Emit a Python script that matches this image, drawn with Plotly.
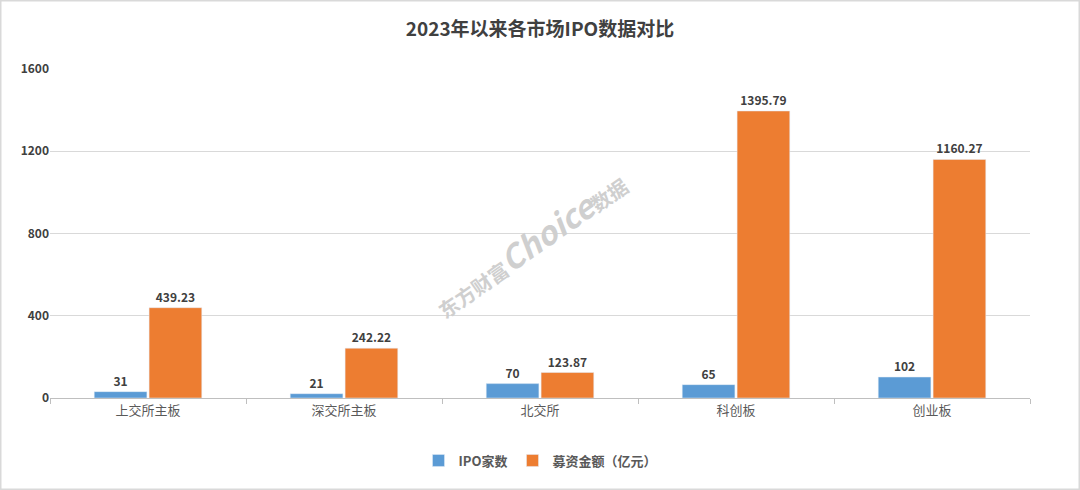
import plotly.graph_objects as go

categories = ["上交所主板", "深交所主板", "北交所", "科创板", "创业板"]
ipo_count = [31, 21, 70, 65, 102]
raised = [439.23, 242.22, 123.87, 1395.79, 1160.27]
raised_labels = ["439.23", "242.22", "123.87", "1395.79", "1160.27"]
y_ticks = [0, 400, 800, 1200, 1600]

FONT = "Noto Sans CJK SC"

fig = go.Figure()
fig.add_trace(go.Bar(
    x=categories, y=ipo_count, name="<b>IPO家数</b>",
    marker_color="#5B9BD5",
    text=[str(v) for v in ipo_count], textposition="outside",
    textfont=dict(size=12, color="#404040", family=FONT, weight="bold"),
    cliponaxis=False,
))
fig.add_trace(go.Bar(
    x=categories, y=raised, name="<b>募资金额（亿元）</b>",
    marker_color="#ED7D31",
    text=raised_labels, textposition="outside",
    textfont=dict(size=12, color="#404040", family=FONT, weight="bold"),
    cliponaxis=False,
))

fig.update_layout(
    width=1080, height=490,
    paper_bgcolor="white", plot_bgcolor="white",
    margin=dict(l=50, r=50, t=69, b=92),
    barmode="group", bargap=0.44, bargroupgap=0.04,
    font=dict(family=FONT, color="#595959"),
    title=dict(text="<b>2023年以来各市场IPO数据对比</b>", x=0.5, xanchor="center",
               y=0.94, yanchor="middle",
               font=dict(size=19, color="#404040", family=FONT)),
    legend=dict(orientation="h", x=0.5, xanchor="center", y=-0.19, yanchor="middle",
                font=dict(size=13, color="#595959", family=FONT),
                itemwidth=30, traceorder="normal"),
    showlegend=True,
    xaxis=dict(showline=True, linecolor="#BFBFBF", linewidth=1,
               ticks="outside", tickcolor="#BFBFBF", ticklen=5,
               tickson="boundaries",
               tickfont=dict(size=13, color="#595959", family=FONT)),
    yaxis=dict(range=[0, 1600], tickvals=y_ticks, showgrid=True, gridcolor="#D9D9D9",
               gridwidth=1, zeroline=False, showline=False, ticks="",
               tickfont=dict(size=12, color="#404040", family=FONT, weight="bold")),
    annotations=[dict(
        text="<span style='font-size:20px'><b>东方财富</b></span><i><b>Choice</b></i><span style='font-size:20px'><b>数据</b></span>",
        xref="paper", yref="paper", x=0.49, y=0.47, showarrow=False, textangle=-35,
        font=dict(size=32, color="#CFCFCF", family=FONT),
    )],
)

# outer border of the whole chart
fig.add_shape(type="rect", xref="paper", yref="paper",
              x0=-50/980, x1=1+50/980, y0=-92/329, y1=1+69/329,
              line=dict(color="#D9D9D9", width=3), layer="below")

fig.write_html("out.html")
